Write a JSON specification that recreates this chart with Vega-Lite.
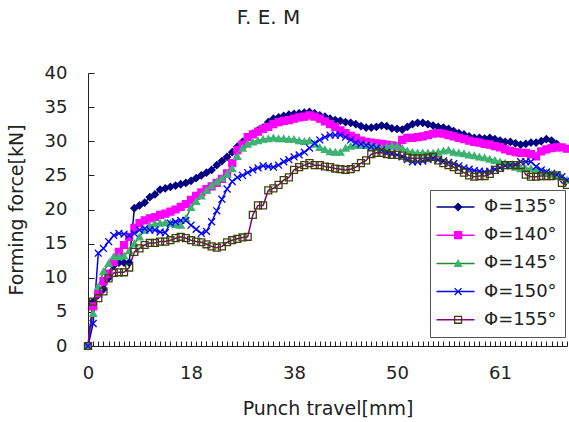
{
  "$schema": "https://vega.github.io/schema/vega-lite/v6.json",
  "width": 479,
  "height": 273,
  "autosize": {"type": "none"},
  "padding": {"left": 88, "top": 73, "right": 2, "bottom": 76},
  "background": "white",
  "title": {"text": "F. E. M", "font": "DejaVu Sans", "fontSize": 20, "fontWeight": "normal", "color": "#222", "anchor": "middle", "dx": -59, "offset": 36},
  "config": {"view": {"stroke": null}, "font": "DejaVu Sans"},
  "datasets": {
    "pts": [
{"s":"Φ=135°","i":0,"v":0},{"s":"Φ=135°","i":1,"v":6.5},{"s":"Φ=135°","i":2,"v":7.5},{"s":"Φ=135°","i":3,"v":8.3},{"s":"Φ=135°","i":4,"v":10},{"s":"Φ=135°","i":5,"v":11.8},{"s":"Φ=135°","i":6,"v":12.2},{"s":"Φ=135°","i":7,"v":12.2},{"s":"Φ=135°","i":8,"v":12.2},{"s":"Φ=135°","i":9,"v":20.2},
{"s":"Φ=135°","i":10,"v":20.6},{"s":"Φ=135°","i":11,"v":21.0},{"s":"Φ=135°","i":12,"v":21.8},{"s":"Φ=135°","i":13,"v":22.2},{"s":"Φ=135°","i":14,"v":22.9},{"s":"Φ=135°","i":15,"v":23.1},{"s":"Φ=135°","i":16,"v":23.3},{"s":"Φ=135°","i":17,"v":23.5},{"s":"Φ=135°","i":18,"v":23.7},{"s":"Φ=135°","i":19,"v":23.9},
{"s":"Φ=135°","i":20,"v":24.2},{"s":"Φ=135°","i":21,"v":24.6},{"s":"Φ=135°","i":22,"v":25.0},{"s":"Φ=135°","i":23,"v":25.4},{"s":"Φ=135°","i":24,"v":25.8},{"s":"Φ=135°","i":25,"v":26.5},{"s":"Φ=135°","i":26,"v":27.1},{"s":"Φ=135°","i":27,"v":27.7},{"s":"Φ=135°","i":28,"v":28.4},{"s":"Φ=135°","i":29,"v":29.2},
{"s":"Φ=135°","i":30,"v":29.9},{"s":"Φ=135°","i":31,"v":30.5},{"s":"Φ=135°","i":32,"v":31.1},{"s":"Φ=135°","i":33,"v":31.6},{"s":"Φ=135°","i":34,"v":32.0},{"s":"Φ=135°","i":35,"v":32.8},{"s":"Φ=135°","i":36,"v":33.3},{"s":"Φ=135°","i":37,"v":33.5},{"s":"Φ=135°","i":38,"v":33.7},{"s":"Φ=135°","i":39,"v":33.9},
{"s":"Φ=135°","i":40,"v":34.0},{"s":"Φ=135°","i":41,"v":34.1},{"s":"Φ=135°","i":42,"v":34.2},{"s":"Φ=135°","i":43,"v":34.3},{"s":"Φ=135°","i":44,"v":34.1},{"s":"Φ=135°","i":45,"v":33.8},{"s":"Φ=135°","i":46,"v":33.6},{"s":"Φ=135°","i":47,"v":33.3},{"s":"Φ=135°","i":48,"v":33.1},{"s":"Φ=135°","i":49,"v":33.0},
{"s":"Φ=135°","i":50,"v":32.8},{"s":"Φ=135°","i":51,"v":32.7},{"s":"Φ=135°","i":52,"v":32.5},{"s":"Φ=135°","i":53,"v":32.2},{"s":"Φ=135°","i":54,"v":32.0},{"s":"Φ=135°","i":55,"v":32.0},{"s":"Φ=135°","i":56,"v":32.1},{"s":"Φ=135°","i":57,"v":32.3},{"s":"Φ=135°","i":58,"v":32.2},{"s":"Φ=135°","i":59,"v":31.9},
{"s":"Φ=135°","i":60,"v":31.8},{"s":"Φ=135°","i":61,"v":31.7},{"s":"Φ=135°","i":62,"v":32.1},{"s":"Φ=135°","i":63,"v":32.5},{"s":"Φ=135°","i":64,"v":32.7},{"s":"Φ=135°","i":65,"v":32.7},{"s":"Φ=135°","i":66,"v":32.5},{"s":"Φ=135°","i":67,"v":32.3},{"s":"Φ=135°","i":68,"v":32.1},{"s":"Φ=135°","i":69,"v":32.0},
{"s":"Φ=135°","i":70,"v":31.8},{"s":"Φ=135°","i":71,"v":31.5},{"s":"Φ=135°","i":72,"v":31.2},{"s":"Φ=135°","i":73,"v":31.0},{"s":"Φ=135°","i":74,"v":30.7},{"s":"Φ=135°","i":75,"v":30.5},{"s":"Φ=135°","i":76,"v":30.5},{"s":"Φ=135°","i":77,"v":30.4},{"s":"Φ=135°","i":78,"v":30.5},{"s":"Φ=135°","i":79,"v":30.3},
{"s":"Φ=135°","i":80,"v":30.1},{"s":"Φ=135°","i":81,"v":29.9},{"s":"Φ=135°","i":82,"v":29.9},{"s":"Φ=135°","i":83,"v":29.7},{"s":"Φ=135°","i":84,"v":29.5},{"s":"Φ=135°","i":85,"v":29.6},{"s":"Φ=135°","i":86,"v":29.8},{"s":"Φ=135°","i":87,"v":29.8},{"s":"Φ=135°","i":88,"v":30.0},{"s":"Φ=135°","i":89,"v":30.3},
{"s":"Φ=135°","i":90,"v":30.1},{"s":"Φ=135°","i":91,"v":29.6},

{"s":"Φ=140°","i":0,"v":0},{"s":"Φ=140°","i":1,"v":5.8},{"s":"Φ=140°","i":2,"v":7.7},{"s":"Φ=140°","i":3,"v":9.5},{"s":"Φ=140°","i":4,"v":10.6},{"s":"Φ=140°","i":5,"v":12.3},{"s":"Φ=140°","i":6,"v":13.8},{"s":"Φ=140°","i":7,"v":14.8},{"s":"Φ=140°","i":8,"v":16.0},{"s":"Φ=140°","i":9,"v":17.3},
{"s":"Φ=140°","i":10,"v":18.0},{"s":"Φ=140°","i":11,"v":18.4},{"s":"Φ=140°","i":12,"v":18.7},{"s":"Φ=140°","i":13,"v":18.9},{"s":"Φ=140°","i":14,"v":19.2},{"s":"Φ=140°","i":15,"v":19.4},{"s":"Φ=140°","i":16,"v":19.7},{"s":"Φ=140°","i":17,"v":20.0},{"s":"Φ=140°","i":18,"v":20.4},{"s":"Φ=140°","i":19,"v":20.8},
{"s":"Φ=140°","i":20,"v":21.4},{"s":"Φ=140°","i":21,"v":22.0},{"s":"Φ=140°","i":22,"v":22.5},{"s":"Φ=140°","i":23,"v":23.0},{"s":"Φ=140°","i":24,"v":23.4},{"s":"Φ=140°","i":25,"v":23.9},{"s":"Φ=140°","i":26,"v":24.5},{"s":"Φ=140°","i":27,"v":25.3},{"s":"Φ=140°","i":28,"v":26.8},{"s":"Φ=140°","i":29,"v":28.7},
{"s":"Φ=140°","i":30,"v":29.5},{"s":"Φ=140°","i":31,"v":30.6},{"s":"Φ=140°","i":32,"v":31.0},{"s":"Φ=140°","i":33,"v":31.4},{"s":"Φ=140°","i":34,"v":31.8},{"s":"Φ=140°","i":35,"v":32.1},{"s":"Φ=140°","i":36,"v":32.5},{"s":"Φ=140°","i":37,"v":32.8},{"s":"Φ=140°","i":38,"v":33.0},{"s":"Φ=140°","i":39,"v":33.1},
{"s":"Φ=140°","i":40,"v":33.3},{"s":"Φ=140°","i":41,"v":33.5},{"s":"Φ=140°","i":42,"v":33.6},{"s":"Φ=140°","i":43,"v":33.8},{"s":"Φ=140°","i":44,"v":33.6},{"s":"Φ=140°","i":45,"v":33.3},{"s":"Φ=140°","i":46,"v":32.9},{"s":"Φ=140°","i":47,"v":32.5},{"s":"Φ=140°","i":48,"v":32.1},{"s":"Φ=140°","i":49,"v":31.6},
{"s":"Φ=140°","i":50,"v":31.2},{"s":"Φ=140°","i":51,"v":30.8},{"s":"Φ=140°","i":52,"v":30.5},{"s":"Φ=140°","i":53,"v":30.1},{"s":"Φ=140°","i":54,"v":29.9},{"s":"Φ=140°","i":55,"v":29.8},{"s":"Φ=140°","i":56,"v":29.7},{"s":"Φ=140°","i":57,"v":29.6},{"s":"Φ=140°","i":58,"v":29.5},{"s":"Φ=140°","i":59,"v":29.4},
{"s":"Φ=140°","i":60,"v":29.3},{"s":"Φ=140°","i":61,"v":30.2},{"s":"Φ=140°","i":62,"v":30.5},{"s":"Φ=140°","i":63,"v":30.5},{"s":"Φ=140°","i":64,"v":30.6},{"s":"Φ=140°","i":65,"v":30.7},{"s":"Φ=140°","i":66,"v":30.9},{"s":"Φ=140°","i":67,"v":31.1},{"s":"Φ=140°","i":68,"v":31.2},{"s":"Φ=140°","i":69,"v":31.1},
{"s":"Φ=140°","i":70,"v":30.9},{"s":"Φ=140°","i":71,"v":30.7},{"s":"Φ=140°","i":72,"v":30.5},{"s":"Φ=140°","i":73,"v":30.3},{"s":"Φ=140°","i":74,"v":30.1},{"s":"Φ=140°","i":75,"v":29.9},{"s":"Φ=140°","i":76,"v":29.8},{"s":"Φ=140°","i":77,"v":29.6},{"s":"Φ=140°","i":78,"v":29.5},{"s":"Φ=140°","i":79,"v":29.3},
{"s":"Φ=140°","i":80,"v":29.1},{"s":"Φ=140°","i":81,"v":28.8},{"s":"Φ=140°","i":82,"v":28.6},{"s":"Φ=140°","i":83,"v":28.4},{"s":"Φ=140°","i":84,"v":28.3},{"s":"Φ=140°","i":85,"v":28.3},{"s":"Φ=140°","i":86,"v":28.1},{"s":"Φ=140°","i":87,"v":27.8},{"s":"Φ=140°","i":88,"v":28.5},{"s":"Φ=140°","i":89,"v":28.8},
{"s":"Φ=140°","i":90,"v":29.0},{"s":"Φ=140°","i":91,"v":29.1},{"s":"Φ=140°","i":92,"v":29.1},{"s":"Φ=140°","i":93,"v":28.9},

{"s":"Φ=145°","i":0,"v":0},{"s":"Φ=145°","i":1,"v":4.8},{"s":"Φ=145°","i":2,"v":8.7},{"s":"Φ=145°","i":3,"v":10.9},{"s":"Φ=145°","i":4,"v":12.1},{"s":"Φ=145°","i":5,"v":13.1},{"s":"Φ=145°","i":6,"v":13.1},{"s":"Φ=145°","i":7,"v":13.2},{"s":"Φ=145°","i":8,"v":14.0},{"s":"Φ=145°","i":9,"v":15.0},
{"s":"Φ=145°","i":10,"v":16.0},{"s":"Φ=145°","i":11,"v":17.0},{"s":"Φ=145°","i":12,"v":17.6},{"s":"Φ=145°","i":13,"v":17.9},{"s":"Φ=145°","i":14,"v":18.0},{"s":"Φ=145°","i":15,"v":18.1},{"s":"Φ=145°","i":16,"v":18.0},{"s":"Φ=145°","i":17,"v":17.8},{"s":"Φ=145°","i":18,"v":17.7},{"s":"Φ=145°","i":19,"v":18.7},
{"s":"Φ=145°","i":20,"v":20.3},{"s":"Φ=145°","i":21,"v":21.2},{"s":"Φ=145°","i":22,"v":22.0},{"s":"Φ=145°","i":23,"v":22.8},{"s":"Φ=145°","i":24,"v":23.5},{"s":"Φ=145°","i":25,"v":24.1},{"s":"Φ=145°","i":26,"v":24.6},{"s":"Φ=145°","i":27,"v":25.2},{"s":"Φ=145°","i":28,"v":26.0},{"s":"Φ=145°","i":29,"v":27.8},
{"s":"Φ=145°","i":30,"v":29.0},{"s":"Φ=145°","i":31,"v":29.6},{"s":"Φ=145°","i":32,"v":29.9},{"s":"Φ=145°","i":33,"v":30.1},{"s":"Φ=145°","i":34,"v":30.3},{"s":"Φ=145°","i":35,"v":30.4},{"s":"Φ=145°","i":36,"v":30.5},{"s":"Φ=145°","i":37,"v":30.4},{"s":"Φ=145°","i":38,"v":30.4},{"s":"Φ=145°","i":39,"v":30.3},
{"s":"Φ=145°","i":40,"v":30.3},{"s":"Φ=145°","i":41,"v":30.1},{"s":"Φ=145°","i":42,"v":30.0},{"s":"Φ=145°","i":43,"v":30.1},{"s":"Φ=145°","i":44,"v":29.6},{"s":"Φ=145°","i":45,"v":29.1},{"s":"Φ=145°","i":46,"v":28.8},{"s":"Φ=145°","i":47,"v":28.5},{"s":"Φ=145°","i":48,"v":28.4},{"s":"Φ=145°","i":49,"v":28.4},
{"s":"Φ=145°","i":50,"v":29.0},{"s":"Φ=145°","i":51,"v":29.3},{"s":"Φ=145°","i":52,"v":29.4},{"s":"Φ=145°","i":53,"v":29.4},{"s":"Φ=145°","i":54,"v":29.4},{"s":"Φ=145°","i":55,"v":29.3},{"s":"Φ=145°","i":56,"v":29.1},{"s":"Φ=145°","i":57,"v":29.0},{"s":"Φ=145°","i":58,"v":29.2},{"s":"Φ=145°","i":59,"v":29.4},
{"s":"Φ=145°","i":60,"v":29.3},{"s":"Φ=145°","i":61,"v":29.0},{"s":"Φ=145°","i":62,"v":28.6},{"s":"Φ=145°","i":63,"v":28.4},{"s":"Φ=145°","i":64,"v":28.3},{"s":"Φ=145°","i":65,"v":28.3},{"s":"Φ=145°","i":66,"v":28.3},{"s":"Φ=145°","i":67,"v":28.3},{"s":"Φ=145°","i":68,"v":28.4},{"s":"Φ=145°","i":69,"v":28.6},
{"s":"Φ=145°","i":70,"v":28.7},{"s":"Φ=145°","i":71,"v":28.4},{"s":"Φ=145°","i":72,"v":28.3},{"s":"Φ=145°","i":73,"v":28.2},{"s":"Φ=145°","i":74,"v":28.0},{"s":"Φ=145°","i":75,"v":27.9},{"s":"Φ=145°","i":76,"v":27.7},{"s":"Φ=145°","i":77,"v":27.6},{"s":"Φ=145°","i":78,"v":27.4},{"s":"Φ=145°","i":79,"v":27.2},
{"s":"Φ=145°","i":80,"v":27.0},{"s":"Φ=145°","i":81,"v":26.8},{"s":"Φ=145°","i":82,"v":26.5},{"s":"Φ=145°","i":83,"v":26.2},{"s":"Φ=145°","i":84,"v":26.0},{"s":"Φ=145°","i":85,"v":26.0},{"s":"Φ=145°","i":86,"v":26.0},{"s":"Φ=145°","i":87,"v":25.9},{"s":"Φ=145°","i":88,"v":25.6},{"s":"Φ=145°","i":89,"v":25.4},
{"s":"Φ=145°","i":90,"v":25.2},{"s":"Φ=145°","i":91,"v":25.0},{"s":"Φ=145°","i":92,"v":24.7},{"s":"Φ=145°","i":93,"v":24.3},

{"s":"Φ=150°","i":0,"v":0},{"s":"Φ=150°","i":1,"v":3.3},{"s":"Φ=150°","i":2,"v":13.6},{"s":"Φ=150°","i":3,"v":14.3},{"s":"Φ=150°","i":4,"v":15.3},{"s":"Φ=150°","i":5,"v":16.2},{"s":"Φ=150°","i":6,"v":16.5},{"s":"Φ=150°","i":7,"v":16.4},{"s":"Φ=150°","i":8,"v":16.2},{"s":"Φ=150°","i":9,"v":16.5},
{"s":"Φ=150°","i":10,"v":17.0},{"s":"Φ=150°","i":11,"v":17.2},{"s":"Φ=150°","i":12,"v":17.0},{"s":"Φ=150°","i":13,"v":17.0},{"s":"Φ=150°","i":14,"v":16.7},{"s":"Φ=150°","i":15,"v":16.6},{"s":"Φ=150°","i":16,"v":18.0},{"s":"Φ=150°","i":17,"v":18.2},{"s":"Φ=150°","i":18,"v":18.4},{"s":"Φ=150°","i":19,"v":18.4},
{"s":"Φ=150°","i":20,"v":17.7},{"s":"Φ=150°","i":21,"v":17.1},{"s":"Φ=150°","i":22,"v":16.5},{"s":"Φ=150°","i":23,"v":16.8},{"s":"Φ=150°","i":24,"v":18.2},{"s":"Φ=150°","i":25,"v":19.8},{"s":"Φ=150°","i":26,"v":21.5},{"s":"Φ=150°","i":27,"v":23.0},{"s":"Φ=150°","i":28,"v":24.1},{"s":"Φ=150°","i":29,"v":24.7},
{"s":"Φ=150°","i":30,"v":25.0},{"s":"Φ=150°","i":31,"v":25.4},{"s":"Φ=150°","i":32,"v":25.8},{"s":"Φ=150°","i":33,"v":26.1},{"s":"Φ=150°","i":34,"v":26.4},{"s":"Φ=150°","i":35,"v":26.3},{"s":"Φ=150°","i":36,"v":26.2},{"s":"Φ=150°","i":37,"v":26.5},{"s":"Φ=150°","i":38,"v":27.0},{"s":"Φ=150°","i":39,"v":27.3},
{"s":"Φ=150°","i":40,"v":27.7},{"s":"Φ=150°","i":41,"v":28.0},{"s":"Φ=150°","i":42,"v":28.4},{"s":"Φ=150°","i":43,"v":29.0},{"s":"Φ=150°","i":44,"v":29.7},{"s":"Φ=150°","i":45,"v":30.2},{"s":"Φ=150°","i":46,"v":30.6},{"s":"Φ=150°","i":47,"v":30.9},{"s":"Φ=150°","i":48,"v":30.9},{"s":"Φ=150°","i":49,"v":30.9},
{"s":"Φ=150°","i":50,"v":30.6},{"s":"Φ=150°","i":51,"v":30.2},{"s":"Φ=150°","i":52,"v":29.8},{"s":"Φ=150°","i":53,"v":29.6},{"s":"Φ=150°","i":54,"v":29.4},{"s":"Φ=150°","i":55,"v":29.2},{"s":"Φ=150°","i":56,"v":29.0},{"s":"Φ=150°","i":57,"v":28.7},{"s":"Φ=150°","i":58,"v":28.4},{"s":"Φ=150°","i":59,"v":28.2},
{"s":"Φ=150°","i":60,"v":28.0},{"s":"Φ=150°","i":61,"v":27.7},{"s":"Φ=150°","i":62,"v":27.3},{"s":"Φ=150°","i":63,"v":27.0},{"s":"Φ=150°","i":64,"v":27.0},{"s":"Φ=150°","i":65,"v":27.1},{"s":"Φ=150°","i":66,"v":27.3},{"s":"Φ=150°","i":67,"v":27.5},{"s":"Φ=150°","i":68,"v":27.3},{"s":"Φ=150°","i":69,"v":27.1},
{"s":"Φ=150°","i":70,"v":26.9},{"s":"Φ=150°","i":71,"v":26.7},{"s":"Φ=150°","i":72,"v":26.4},{"s":"Φ=150°","i":73,"v":26.1},{"s":"Φ=150°","i":74,"v":25.9},{"s":"Φ=150°","i":75,"v":25.7},{"s":"Φ=150°","i":76,"v":25.6},{"s":"Φ=150°","i":77,"v":25.5},{"s":"Φ=150°","i":78,"v":25.6},{"s":"Φ=150°","i":79,"v":25.9},
{"s":"Φ=150°","i":80,"v":26.1},{"s":"Φ=150°","i":81,"v":26.4},{"s":"Φ=150°","i":82,"v":26.5},{"s":"Φ=150°","i":83,"v":26.6},{"s":"Φ=150°","i":84,"v":27.0},{"s":"Φ=150°","i":85,"v":27.0},{"s":"Φ=150°","i":86,"v":27.0},{"s":"Φ=150°","i":87,"v":26.3},{"s":"Φ=150°","i":88,"v":25.8},{"s":"Φ=150°","i":89,"v":25.5},
{"s":"Φ=150°","i":90,"v":25.3},{"s":"Φ=150°","i":91,"v":25.1},{"s":"Φ=150°","i":92,"v":24.8},{"s":"Φ=150°","i":93,"v":24.3},

{"s":"Φ=155°","i":0,"v":0},{"s":"Φ=155°","i":1,"v":6.5},{"s":"Φ=155°","i":2,"v":7.0},{"s":"Φ=155°","i":3,"v":8.0},{"s":"Φ=155°","i":4,"v":9.9},{"s":"Φ=155°","i":5,"v":10.7},{"s":"Φ=155°","i":6,"v":10.8},{"s":"Φ=155°","i":7,"v":10.8},{"s":"Φ=155°","i":8,"v":11.5},{"s":"Φ=155°","i":9,"v":13.8},
{"s":"Φ=155°","i":10,"v":14.3},{"s":"Φ=155°","i":11,"v":14.8},{"s":"Φ=155°","i":12,"v":15.1},{"s":"Φ=155°","i":13,"v":15.1},{"s":"Φ=155°","i":14,"v":15.3},{"s":"Φ=155°","i":15,"v":15.3},{"s":"Φ=155°","i":16,"v":15.5},{"s":"Φ=155°","i":17,"v":15.8},{"s":"Φ=155°","i":18,"v":16.0},{"s":"Φ=155°","i":19,"v":15.8},
{"s":"Φ=155°","i":20,"v":15.5},{"s":"Φ=155°","i":21,"v":15.3},{"s":"Φ=155°","i":22,"v":15.2},{"s":"Φ=155°","i":23,"v":14.9},{"s":"Φ=155°","i":24,"v":14.6},{"s":"Φ=155°","i":25,"v":14.4},{"s":"Φ=155°","i":26,"v":14.6},{"s":"Φ=155°","i":27,"v":15.2},{"s":"Φ=155°","i":28,"v":15.5},{"s":"Φ=155°","i":29,"v":15.7},
{"s":"Φ=155°","i":30,"v":15.9},{"s":"Φ=155°","i":31,"v":16.0},{"s":"Φ=155°","i":32,"v":19.2},{"s":"Φ=155°","i":33,"v":20.6},{"s":"Φ=155°","i":34,"v":20.6},{"s":"Φ=155°","i":35,"v":22.8},{"s":"Φ=155°","i":36,"v":23.1},{"s":"Φ=155°","i":37,"v":23.6},{"s":"Φ=155°","i":38,"v":24.3},{"s":"Φ=155°","i":39,"v":24.7},
{"s":"Φ=155°","i":40,"v":25.8},{"s":"Φ=155°","i":41,"v":26.2},{"s":"Φ=155°","i":42,"v":26.5},{"s":"Φ=155°","i":43,"v":26.8},{"s":"Φ=155°","i":44,"v":26.5},{"s":"Φ=155°","i":45,"v":26.5},{"s":"Φ=155°","i":46,"v":26.3},{"s":"Φ=155°","i":47,"v":26.2},{"s":"Φ=155°","i":48,"v":26.0},{"s":"Φ=155°","i":49,"v":25.9},
{"s":"Φ=155°","i":50,"v":25.8},{"s":"Φ=155°","i":51,"v":25.9},{"s":"Φ=155°","i":52,"v":26.2},{"s":"Φ=155°","i":53,"v":26.8},{"s":"Φ=155°","i":54,"v":27.2},{"s":"Φ=155°","i":55,"v":28.1},{"s":"Φ=155°","i":56,"v":28.3},{"s":"Φ=155°","i":57,"v":28.3},{"s":"Φ=155°","i":58,"v":28.1},{"s":"Φ=155°","i":59,"v":28.0},
{"s":"Φ=155°","i":60,"v":28.0},{"s":"Φ=155°","i":61,"v":27.9},{"s":"Φ=155°","i":62,"v":27.6},{"s":"Φ=155°","i":63,"v":27.5},{"s":"Φ=155°","i":64,"v":27.5},{"s":"Φ=155°","i":65,"v":27.5},{"s":"Φ=155°","i":66,"v":27.6},{"s":"Φ=155°","i":67,"v":27.7},{"s":"Φ=155°","i":68,"v":27.2},{"s":"Φ=155°","i":69,"v":26.8},
{"s":"Φ=155°","i":70,"v":26.5},{"s":"Φ=155°","i":71,"v":26.2},{"s":"Φ=155°","i":72,"v":25.8},{"s":"Φ=155°","i":73,"v":25.4},{"s":"Φ=155°","i":74,"v":25.0},{"s":"Φ=155°","i":75,"v":24.8},{"s":"Φ=155°","i":76,"v":24.9},{"s":"Φ=155°","i":77,"v":24.9},{"s":"Φ=155°","i":78,"v":25.2},{"s":"Φ=155°","i":79,"v":25.8},
{"s":"Φ=155°","i":80,"v":26.1},{"s":"Φ=155°","i":81,"v":26.5},{"s":"Φ=155°","i":82,"v":26.5},{"s":"Φ=155°","i":83,"v":26.5},{"s":"Φ=155°","i":84,"v":26.5},{"s":"Φ=155°","i":85,"v":25.1},{"s":"Φ=155°","i":86,"v":24.8},{"s":"Φ=155°","i":87,"v":24.8},{"s":"Φ=155°","i":88,"v":24.9},{"s":"Φ=155°","i":89,"v":24.9},
{"s":"Φ=155°","i":90,"v":24.9},{"s":"Φ=155°","i":91,"v":25.0},{"s":"Φ=155°","i":92,"v":23.9},{"s":"Φ=155°","i":93,"v":23.6}
    ]
  },
  "data": {"name": "pts"},
  "encoding": {
    "x": {
      "field": "i", "type": "quantitative",
      "scale": {"domain": [0, 93], "nice": false, "zero": false},
      "axis": {
        "title": "Punch travel[mm]",
        "values": [0,1,2,3,4,5,6,7,8,9,10,11,12,13,14,15,16,17,18,19,20,21,22,23,24,25,26,27,28,29,30,31,32,33,34,35,36,37,38,39,40,41,42,43,44,45,46,47,48,49,50,51,52,53,54,55,56,57,58,59,60,61,62,63,64,65,66,67,68,69,70,71,72,73,74,75,76,77,78,79,80,81,82,83,84,85,86,87,88,89,90,91,92,93],
        "labelExpr": "datum.value == 0 ? '0' : datum.value == 20 ? '18' : datum.value == 40 ? '38' : datum.value == 60 ? '50' : datum.value == 80 ? '61' : ''",
        "labelOverlap": false, "labelFlush": false, "labelBound": false,
        "grid": false, "tickSize": -5, "labelPadding": 23,
        "domainColor": "#222", "tickColor": "#222", "tickWidth": 1,
        "labelFont": "DejaVu Sans", "labelFontSize": 18, "labelColor": "#222",
        "titleFont": "DejaVu Sans", "titleFontSize": 19, "titleFontWeight": "normal", "titleColor": "#222", "titlePadding": 17
      }
    },
    "y": {
      "field": "v", "type": "quantitative",
      "scale": {"domain": [0, 40], "nice": false},
      "axis": {
        "title": "Forming force[kN]",
        "values": [0,5,10,15,20,25,30,35,40],
        "grid": false, "tickSize": -6, "labelPadding": 27,
        "domainColor": "#222", "tickColor": "#222",
        "labelFont": "DejaVu Sans", "labelFontSize": 18, "labelColor": "#222",
        "titleFont": "DejaVu Sans", "titleFontSize": 19, "titleFontWeight": "normal", "titleColor": "#222", "titlePadding": 18
      }
    }
  },
  "layer": [
    {
      "mark": {"type": "line", "strokeWidth": 1.5},
      "encoding": {
        "color": {
          "field": "s", "type": "nominal",
          "scale": {"domain": ["Φ=135°","Φ=140°","Φ=145°","Φ=150°","Φ=155°"], "range": ["#000080","#ff00ff","#228b22","#0000ff","#800080"]},
          "legend": {
            "orient": "none", "legendX": 342, "legendY": 117,
            "title": null,
            "strokeColor": "#555", "fillColor": "white", "padding": 8,
            "labelFont": "DejaVu Sans", "labelFontSize": 18, "labelColor": "#222",
            "symbolType": "M-4,0H4", "symbolSize": 90, "symbolOffset": 8.5, "labelOffset": 19.5, "rowPadding": 10.2,
            "symbolStrokeWidth": 1.5
          }
        }
      }
    },
    {
      "mark": {"type": "point", "filled": true, "strokeWidth": 1.3, "opacity": 1, "size": 48},
      "encoding": {
        "shape": {
          "field": "s", "type": "nominal",
          "scale": {"domain": ["Φ=155°","Φ=150°","Φ=145°","Φ=140°","Φ=135°"], "range": ["square","M-1,-1L1,1M-1,1L1,-1","triangle-up","square","diamond"]},
          "legend": {
            "orient": "none", "legendX": 342, "legendY": 117,
            "title": null,
            "values": ["Φ=135°","Φ=140°","Φ=145°","Φ=150°","Φ=155°"],
            "padding": 8,
            "labelFont": "DejaVu Sans", "labelFontSize": 18, "labelColor": "transparent",
            "labelExpr": "' '",
            "symbolSize": 48, "symbolOffset": 11.1, "labelOffset": 19.5, "rowPadding": 10.2,
            "symbolStrokeWidth": 1.3
          }
        },
        "fill": {
          "field": "s", "type": "nominal",
          "scale": {"domain": ["Φ=155°","Φ=150°","Φ=145°","Φ=140°","Φ=135°"], "range": ["transparent","transparent","#3cb371","#ff00ff","#000080"]}
        },
        "stroke": {
          "field": "s", "type": "nominal",
          "scale": {"domain": ["Φ=155°","Φ=150°","Φ=145°","Φ=140°","Φ=135°"], "range": ["#3f3f0f","#0000ff","#3cb371","#ff00ff","#000080"]}
        }
      }
    }
  ]
}
